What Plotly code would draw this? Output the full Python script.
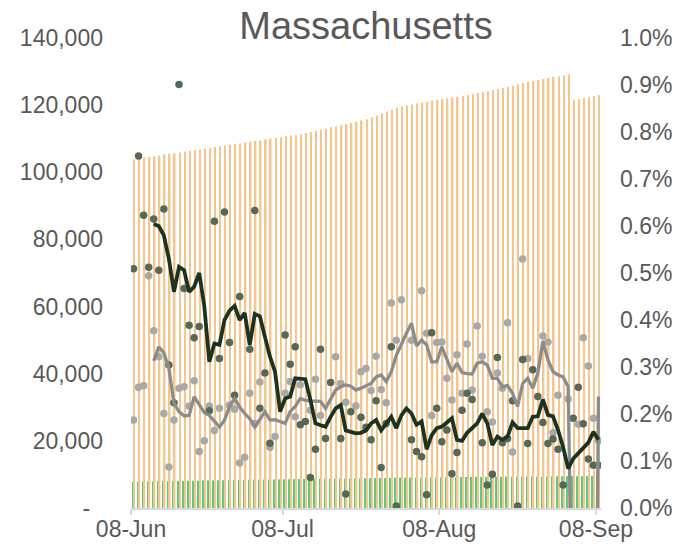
import pandas as pd
import plotly.graph_objects as go

START = "2020-06-08"
N_DAYS = 93

# Daily bars (left axis)
orange_vals = [103900, 104100, 104400, 104600, 104800, 105000, 105300, 105500, 105700, 105900,
               106200, 106400, 106600, 106800, 107100, 107300, 107500, 107700, 108000, 108200,
               108400, 108600, 108900, 109100, 109300, 109500, 109800, 110000, 110200, 110400,
               110700, 110900, 111100, 111400, 111700, 112000, 112400, 112700, 113000, 113400,
               113700, 114000, 114400, 114700, 115100, 115400, 115800, 116400, 116900, 117500,
               118100, 118600, 119200, 119600, 119900, 120200, 120500, 120700, 121000, 121300,
               121500, 121800, 122000, 122300, 122500, 122800, 123000, 123300, 123600, 123900,
               124200, 124500, 124800, 125100, 125500, 125800, 126200, 126500, 126900, 127300,
               127500, 127800, 128100, 128400, 128600, 128900, 129200, 121500, 121800, 122100,
               122400, 122700, 123000]
green_vals = [7850, 7870, 7900, 7920, 7940, 7970, 7990, 8010, 8040, 8060,
              8080, 8110, 8130, 8150, 8180, 8200, 8220, 8250, 8270, 8290,
              8320, 8340, 8360, 8390, 8410, 8430, 8460, 8480, 8500, 8530,
              8550, 8570, 8590, 8610, 8630, 8650, 8670, 8700, 8720, 8740,
              8760, 8780, 8800, 8820, 8840, 8860, 8880, 8900, 8920, 8940,
              8960, 8990, 9010, 9030, 9050, 9070, 9090, 9110, 9130, 9150,
              9160, 9170, 9190, 9200, 9210, 9220, 9230, 9240, 9260, 9270,
              9280, 9290, 9300, 9310, 9330, 9340, 9350, 9360, 9370, 9380,
              9400, 9410, 9420, 9430, 9440, 9450, 9470, 9480, 9490, 9500,
              9510, 9520, 9530]

# Averages (right axis, percent)
dark_avg = [None, None, None, None, 0.604, 0.600, 0.58, 0.53, 0.46, 0.513,
            0.506, 0.46, 0.471, 0.50, 0.43, 0.311, 0.35, 0.347, 0.40, 0.42,
            0.43, 0.40, 0.415, 0.347, 0.413, 0.408, 0.364, 0.322, 0.29, 0.205,
            0.233, 0.237, 0.276, 0.275, 0.274, 0.23, 0.18, 0.176, 0.173, 0.194,
            0.212, 0.219, 0.165, 0.162, 0.159, 0.16, 0.165, 0.18, 0.187, 0.165,
            0.178, 0.194, 0.17, 0.197, 0.212, 0.201, 0.177, 0.184, 0.125, 0.155,
            0.17, 0.173, 0.182, 0.191, 0.145, 0.143, 0.16, 0.17, 0.18, 0.201,
            0.18, 0.134, 0.152, 0.145, 0.152, 0.182, 0.17, 0.17, 0.17, 0.194,
            0.195, 0.231, 0.198, 0.195, 0.166, 0.13, 0.084, 0.105, 0.117, 0.127,
            0.139, 0.162, 0.145]
gray_avg = [None, None, None, None, 0.313, 0.343, 0.33, 0.297, 0.223, 0.205,
            0.196, 0.197, 0.237, 0.219, 0.203, 0.197, 0.184, 0.172, 0.187, 0.216,
            0.233, 0.215, 0.201, 0.19, 0.172, 0.19, 0.205, 0.187, 0.188, 0.184,
            0.18, 0.205, 0.216, 0.233, 0.229, 0.228, 0.227, 0.227, 0.212, 0.233,
            0.251, 0.258, 0.262, 0.259, 0.251, 0.255, 0.26, 0.265, 0.279, 0.283,
            0.269, 0.29, 0.325, 0.35, 0.372, 0.393, 0.345, 0.357, 0.347, 0.311,
            0.311, 0.343, 0.315, 0.29, 0.308, 0.288, 0.286, 0.285, 0.308, 0.311,
            0.304, 0.276, 0.276, 0.258, 0.261, 0.244, 0.216, 0.265, 0.276, 0.255,
            0.287, 0.355, 0.315, 0.29, 0.283, 0.279, 0.258, -1, -1, -1,
            -1, -1, 0.237]

# Daily points (right axis, percent); day offsets from START
dark_dot_day = [0, 1, 2, 3, 4, 5, 6, 7, 8, 9, 10, 11, 12, 13, 15, 16, 17, 18, 19, 20, 21,
                23, 24, 25, 26, 27, 30, 31, 32, 33, 34, 35, 36, 37, 38, 39, 41, 42, 43,
                45, 46, 47, 48, 49, 50, 51, 52, 55, 56, 57, 58, 59, 60, 61, 62, 63, 64,
                65, 66, 67, 69, 70, 71, 72, 73, 74, 75, 76, 77, 78, 79, 80, 81, 82, 83,
                84, 85, 87, 88, 89, 90, 91, 92]
dark_dot_val = [0.509, 0.749, 0.623, 0.512, 0.615, 0.506, 0.636, 0.304, 0.224, 0.901, 0.467,
                0.389, 0.362, 0.386, 0.207, 0.61, 0.318, 0.63, 0.352, 0.24, 0.45,
                0.338, 0.633, 0.212, 0.287, 0.138, 0.368, 0.306, 0.343, 0.177, 0.184,
                0.065, 0.125, 0.338, 0.148, 0.267, 0.148, 0.03, 0.205,
                0.193, 0.172, 0.145, 0.228, 0.086, 0.18, 0.343, 0.004, 0.145, 0.12,
                0.109, 0.028, 0.373, 0.212, 0.141, 0.166, 0.073, 0.118, 0.208, 0.244,
                0.231, 0.139, 0.049, 0.072, 0.32, 0.139, 0.148, 0.228, 0.004, 0.316,
                0.137, 0.294, 0.237, 0.182, 0.137, 0.147, 0.125, 0.049, 0.191, 0.257,
                0.179, 0.104, 0.091, 0.091]
gray_dot_day = [0, 1, 2, 3, 4, 5, 6, 7, 8, 9, 10, 11, 12, 13, 14, 15, 16, 17, 19, 20, 21,
                22, 23, 24, 25, 27, 28, 30, 31, 32, 33, 35, 36, 37, 40, 41, 42, 44, 45,
                46, 47, 48, 49, 50, 51, 52, 53, 55, 57, 58, 59, 60, 61, 62, 63, 64, 65,
                66, 67, 68, 69, 70, 71, 72, 73, 74, 75, 77, 78, 81, 82, 83, 84, 86, 88,
                89, 90, 91, 92]
gray_dot_val = [0.187, 0.257, 0.26, 0.494, 0.377, 0.322, 0.201, 0.087, 0.187, 0.255, 0.258,
                0.217, 0.271, 0.12, 0.143, 0.217, 0.165, 0.212, 0.219, 0.21, 0.096,
                0.108, 0.244, 0.18, 0.268, 0.129, 0.152, 0.244, 0.269, 0.194, 0.262,
                0.208, 0.274, 0.197, 0.322, 0.265, 0.225, 0.217, 0.29,
                0.297, 0.25, 0.323, 0.252, 0.224, 0.436, 0.357, 0.443, 0.357, 0.462,
                0.372, 0.197, 0.352, 0.353, 0.276, 0.23, 0.326, 0.244,
                0.349, 0.251, 0.387, 0.323, 0.205, 0.183, 0.287, 0.255, 0.394, 0.119,
                0.53, 0.318, 0.366, 0.353, 0.16, 0.24, 0.232, 0.178,
                0.362, 0.302, 0.191, 0.143]

left_tick_vals = [0, 20000, 40000, 60000, 80000, 100000, 120000, 140000]
left_tick_text = ["-\u00a0\u00a0", "20,000", "40,000", "60,000", "80,000", "100,000", "120,000", "140,000"]
x_tick_vals = ["2020-06-08", "2020-07-08", "2020-08-08", "2020-09-08"]
x_tick_text = ["08-Jun", "08-Jul", "08-Aug", "08-Sep"]

dates = pd.date_range(START, periods=N_DAYS, freq="D")
DAY_MS = 86400000
per = dict(xperiod=DAY_MS, xperiodalignment="middle")

fig = go.Figure()
fig.add_bar(x=dates, y=green_vals, marker=dict(color="#5CCB80", line_width=0), **per)
fig.add_bar(x=dates, y=orange_vals, marker=dict(color="#F4C68E", line_width=0), **per)
fig.add_scatter(x=[dates[i] for i in gray_dot_day], y=gray_dot_val, mode="markers", yaxis="y2",
                marker=dict(color="#A8A8A8", size=7.5, line_width=0), **per)
fig.add_scatter(x=[dates[i] for i in dark_dot_day], y=dark_dot_val, mode="markers", yaxis="y2",
                marker=dict(color="#55695A", size=7.5, line_width=0), **per)
fig.add_scatter(x=dates, y=gray_avg, mode="lines", yaxis="y2",
                line=dict(color="#8C8C8C", width=3.3), **per)
fig.add_scatter(x=dates, y=dark_avg, mode="lines", yaxis="y2",
                line=dict(color="#1B3421", width=3.8), **per)

fig.update_layout(
    width=680, height=551,
    margin=dict(l=131, r=79, t=38, b=43, autoexpand=False),
    paper_bgcolor="white", plot_bgcolor="white",
    barmode="group", bargap=0.4, bargroupgap=0,
    showlegend=False,
    font=dict(family="Liberation Sans, Arial, sans-serif", size=23, color="#595959"),
    title=dict(text="Massachusetts", x=0.5, xref="paper", xanchor="center",
               y=1 - 26 / 551, yref="container", yanchor="middle",
               font=dict(size=38, color="#595959")),
    xaxis=dict(type="date", range=["2020-06-08", "2020-09-09"], automargin=False,
               tickvals=x_tick_vals, ticktext=x_tick_text,
               ticks="outside", ticklen=5, tickcolor="#D9D9D9", tickwidth=1.5,
               showline=True, linecolor="#D9D9D9", linewidth=1.5,
               showgrid=False, zeroline=False, ticklabelstandoff=-5),
    yaxis=dict(range=[0, 140000], tickvals=left_tick_vals, ticktext=left_tick_text,
               automargin=False,
               showgrid=False, zeroline=False, showline=False, ticklabelstandoff=27),
    yaxis2=dict(range=[0, 1], overlaying="y", side="right", dtick=0.1,
                tickformat=".1f", ticksuffix="%", automargin=False,
                showgrid=False, zeroline=False, showline=False, ticklabelstandoff=18),
)

fig.write_html("out.html", config={"displayModeBar": False},
               post_script="document.body.style.margin='0';document.body.style.padding='0';")
